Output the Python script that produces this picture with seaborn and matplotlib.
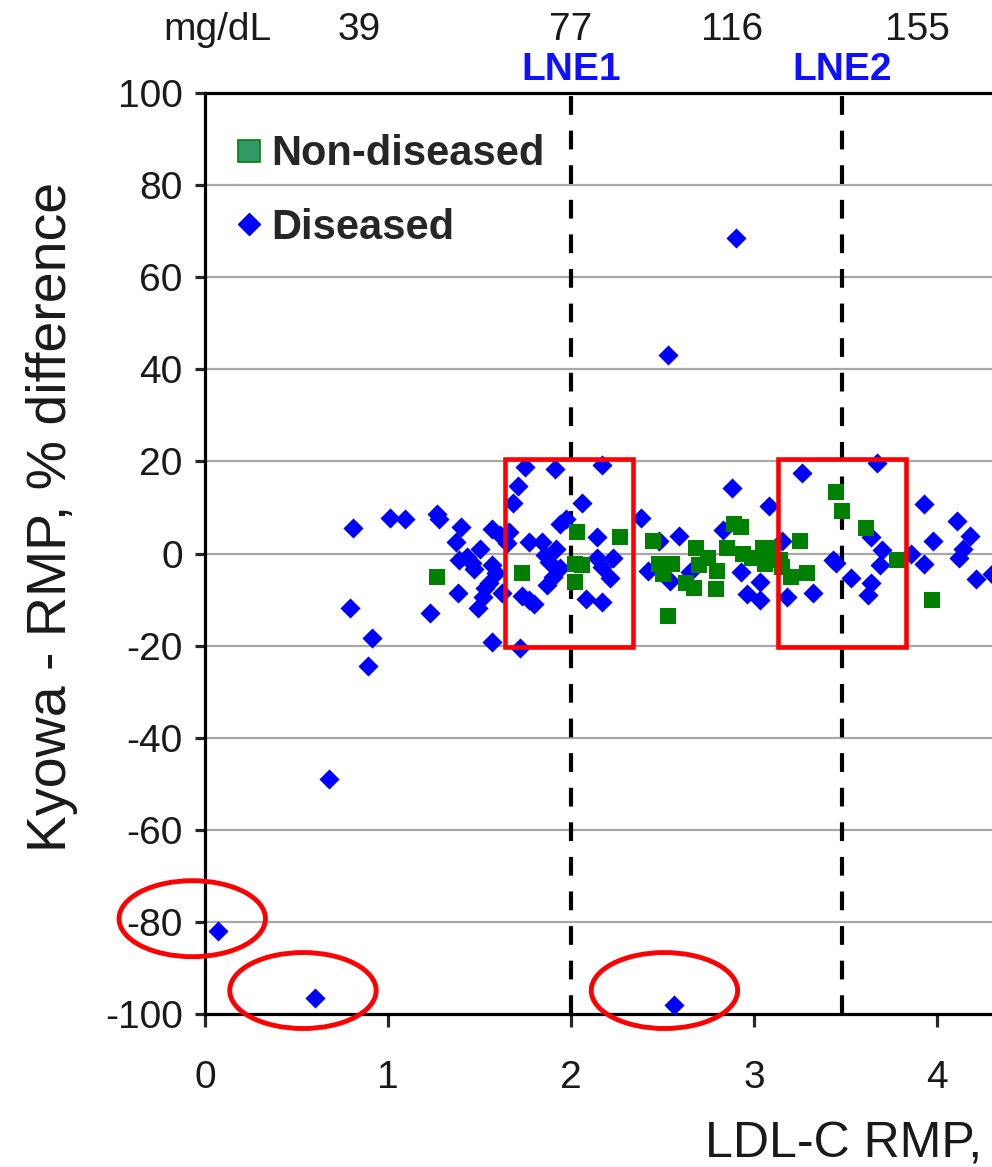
import matplotlib.pyplot as plt
import seaborn as sns
import pandas as pd
from matplotlib.patches import Rectangle, Ellipse
from matplotlib.lines import Line2D

# LDL-C RMP (mmol/L) vs Kyowa - RMP % difference
diseased_x = [0.07, 0.60, 2.56, 0.68, 0.89, 0.91, 0.79, 0.81, 2.90, 2.53,
              1.01, 1.09, 1.27, 1.28, 1.40, 1.37, 1.57, 1.61, 1.66, 1.50,
              1.43, 1.46, 1.47, 1.39, 1.57, 1.59, 1.55, 1.53, 1.52, 1.49,
              1.38, 1.62, 1.65, 1.23, 1.57, 1.72, 1.75, 1.91, 1.71, 1.68,
              2.06, 1.94, 1.97, 1.77, 1.84, 1.92, 1.86, 1.88, 1.94, 1.90,
              1.87, 1.73, 1.80, 1.77, 2.08, 2.14, 2.14, 2.17, 2.23, 2.17,
              2.21, 2.17, 2.38, 2.59, 2.48, 2.42, 2.54, 2.65, 2.83, 2.88,
              2.93, 2.96, 3.03, 3.03, 3.08, 3.26, 3.15, 3.18, 3.32, 3.43,
              3.45, 3.53, 3.64, 3.62, 3.64, 3.70, 3.69, 3.67, 3.93, 4.11,
              4.18, 3.98, 4.14, 4.12, 3.86, 3.93, 4.21, 4.30]
diseased_y = [-82, -96.5, -98, -49, -24.5, -18.3, -11.8, 5.6, 68.6, 43.2,
              7.8, 7.6, 8.6, 7.6, 5.8, 2.4, 5.4, 4.0, 4.6, 0.9,
              -0.8, -2.0, -3.3, -1.5, -2.4, -4.2, -6.5, -7.4, -9.5, -11.8,
              -8.6, -8.6, 2.2, -13, -19.3, -20.5, 18.7, 18.4, 14.6, 11,
              11, 6.3, 7.6, 2.5, 2.6, 0.9, -0.4, -1.9, -3.2, -5.2,
              -6.9, -9.3, -10.9, -10.2, -9.8, 3.5, -0.9, 19.3, -0.9, -3.0,
              -5.3, -10.6, 7.8, 3.9, 2.8, -3.7, -5.9, -4.1, 5.2, 14.3,
              -4.1, -8.7, -10.2, -6.2, 10.4, 17.4, 2.8, -9.5, -8.5, -1.5,
              -2.0, -5.4, -6.5, -9.1, 3.5, 0.7, -2.6, 19.6, 10.8, 7.0,
              3.9, 2.8, 0.9, -0.9, 0.0, -2.2, -5.6, -4.5]

healthy_x = [1.27, 1.73, 2.03, 2.02, 2.06, 2.02, 2.27, 2.45, 2.48, 2.55,
             2.50, 2.63, 2.67, 2.68, 2.70, 2.75, 2.80, 2.79, 2.85, 2.89,
             2.93, 2.53, 2.94, 2.99, 3.05, 3.08, 3.10, 3.06, 3.14, 3.15,
             3.45, 3.48, 3.61, 3.78, 3.97, 3.25, 3.29, 3.20]
healthy_y = [-5.0, -4.3, 4.6, -2.2, -2.6, -6.1, 3.6, 2.8, -2.2, -2.2,
             -4.5, -6.5, -7.4, 1.1, -2.6, -0.9, -3.7, -7.8, 1.3, 6.5,
             5.8, -13.5, 0.0, -0.9, 1.1, 1.3, 0.0, -2.2, -1.5, -3.0,
             13.3, 9.3, 5.5, -1.5, -10.2, 2.8, -4.3, -5.0]

yticks = [100, 80, 60, 40, 20, 0, -20, -40, -60, -80, -100]
xticks = [0, 1, 2, 3, 4]
mg_labels = ["39", "77", "116", "155"]
mg_pos = [0.84, 2.0, 2.88, 3.89]
lne_pos = [2.0, 3.48]
lne_names = ["LNE1", "LNE2"]

sns.set_theme(style="white")
plt.rcParams['font.family'] = ['Liberation Sans', 'DejaVu Sans']
plt.rcParams['axes.unicode_minus'] = False

dis = pd.DataFrame({"x": diseased_x, "y": diseased_y})
non = pd.DataFrame({"x": healthy_x, "y": healthy_y})

fig = plt.figure(figsize=(9.92, 11.67), dpi=100)
ax = fig.add_axes([0.2067, 0.1311, 0.7933, 0.7892])

for yv in yticks[1:-1]:
    ax.axhline(yv, color="#a8a8a8", lw=1.6, zorder=0)

for xv in lne_pos:
    ax.axvline(xv, color="black", lw=3, dashes=(4.5, 3.8), zorder=1)

sns.scatterplot(data=dis, x="x", y="y", marker="D", color="#0000ff",
                s=105, linewidth=0, ax=ax, zorder=3)
sns.scatterplot(data=non, x="x", y="y", marker="s", color="#008000",
                s=125, linewidth=0, ax=ax, zorder=4)

# red highlight boxes and circles
for x0 in [1.64, 3.13]:
    ax.add_patch(Rectangle((x0, -20.4), 0.70, 41.0, fill=False,
                           ec="#ff0000", lw=3.3, zorder=5))
for cx, cy in [(-0.07, -79.3), (0.535, -94.9), (2.51, -94.9)]:
    ax.add_patch(Ellipse((cx, cy), 0.80, 16.5, fill=False, ec="#ff0000",
                         lw=3.5, zorder=5, clip_on=False))

ax.set_xlim(0, 4.3)
ax.set_ylim(-100, 100)
ax.set_xticks(xticks)
ax.set_yticks(yticks)
ax.set_xlabel("")
ax.set_ylabel("")
ax.tick_params(axis="y", direction="out", length=7, width=2.3, pad=9,
               labelsize=28, labelcolor="#1a1a1a", left=True)
ax.tick_params(axis="x", direction="out", length=9, width=2.3, pad=24,
               labelsize=28, labelcolor="#1a1a1a", bottom=True)
for side in ["left", "bottom", "top"]:
    ax.spines[side].set_linewidth(2.3)
    ax.spines[side].set_color("black")
ax.spines["right"].set_visible(False)

# top mg/dL scale and LNE labels
ax.text(0.07, 113.6, "mg/dL", fontsize=28, color="#1a1a1a",
        ha="center", va="center", clip_on=False)
for p, lab in zip(mg_pos, mg_labels):
    ax.text(p, 113.6, lab, fontsize=28, color="#1a1a1a",
            ha="center", va="center", clip_on=False)
for p, lab in zip(lne_pos, lne_names):
    ax.text(p, 105, lab, fontsize=28, fontweight="bold", color="#1010ff",
            ha="center", va="center", clip_on=False)

handles = [
    Line2D([], [], marker="s", linestyle="None", markersize=16,
           markerfacecolor="#339966", markeredgecolor="#0a7a0a",
           markeredgewidth=1.2, label="Non-diseased"),
    Line2D([], [], marker="D", linestyle="None", markersize=11,
           markerfacecolor="#0000ff", markeredgecolor="#0000ff",
           label="Diseased"),
]
ax.legend(handles=handles, loc="upper left", bbox_to_anchor=(0.029, 0.955),
          frameon=False, borderpad=0, borderaxespad=0, handlelength=1.0,
          handletextpad=0.05, labelspacing=0.8,
          prop={"size": 30, "weight": "bold"})

fig.text(52 / 992, 0.557, "Kyowa - RMP, % difference", rotation=90,
         fontsize=40, color="#1a1a1a", ha="center", va="center")
# the reference is cropped right after the comma
fig.text(705 / 992, 0.008, "LDL-C RMP,", fontsize=36,
         color="#1a1a1a", ha="left", va="baseline")

fig.savefig("out.png", dpi=100, facecolor="white")
